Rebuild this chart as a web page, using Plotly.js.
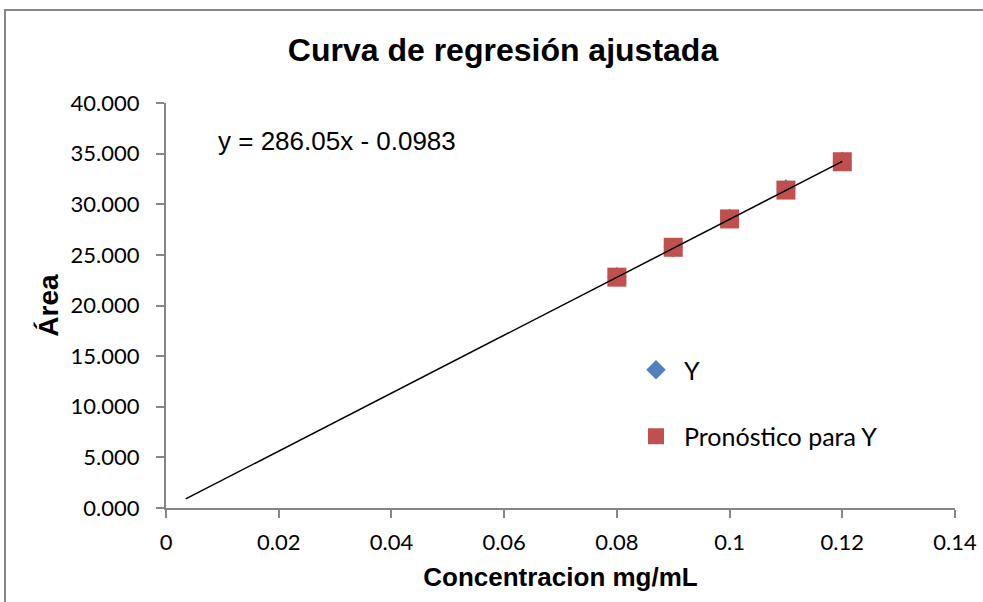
<!DOCTYPE html>
<html>
<head>
<meta charset="utf-8">
<script src="https://cdn.plot.ly/plotly-3.0.1.min.js"></script>
<style>html,body{margin:0;padding:0;background:#fff;}#chart{width:983px;height:602px;}</style>
</head>
<body>
<div id="chart"></div>
<script>
// Data
const concentration = [0.08, 0.09, 0.10, 0.11, 0.12];
const areaY = [22.85, 25.70, 28.60, 31.50, 34.25];          // observed Y (blue diamonds)
const areaForecast = [22.80, 25.75, 28.55, 31.40, 34.20];   // "Pronóstico para Y" (red squares)
const trendX = [0.0035, 0.12];
const trendY = [0.90, 34.23];
const equationText = "y = 286.05x - 0.0983";
const xTickVals = [0, 0.02, 0.04, 0.06, 0.08, 0.1, 0.12, 0.14];
const yTickVals = [0, 5, 10, 15, 20, 25, 30, 35, 40];

const traces = [
  {
    x: concentration, y: areaY, mode: 'markers', type: 'scatter', name: 'Y',
    legendgroup: 'g1',
    marker: {symbol: 'diamond', size: 15, color: '#4F81BD'}
  },
  {
    x: concentration, y: areaForecast, mode: 'markers', type: 'scatter', name: 'Pronóstico para Y',
    legendgroup: 'g2',
    marker: {symbol: 'square', size: 19, color: '#C0504D'}
  },
  {
    x: trendX, y: trendY, mode: 'lines', type: 'scatter',
    line: {color: '#000000', width: 1.5}, showlegend: false, hoverinfo: 'skip'
  }
];

const axisColor = '#868686';
const arial = 'Liberation Sans, Arial, sans-serif';
const calibriLike = 'Lato, Open Sans, sans-serif';
const layout = {
  width: 983, height: 602,
  margin: {l: 166, r: 28, t: 103, b: 94},
  paper_bgcolor: '#ffffff', plot_bgcolor: '#ffffff',
  font: {family: arial, color: '#000000', size: 18},
  title: {
    text: '<b>Curva de regresión ajustada</b>',
    font: {family: arial, size: 32, color: '#000'},
    x: 503 / 983, xanchor: 'center', xref: 'container', y: 1 - 50 / 602, yanchor: 'middle', yref: 'container'
  },
  xaxis: {
    range: [0, 0.14], tickvals: xTickVals, ticktext: xTickVals.map(v => String(v)),
    showgrid: false, zeroline: false, showline: true, linecolor: axisColor, linewidth: 2,
    ticks: 'outside', ticklen: 8, tickwidth: 2, tickcolor: axisColor,
    tickfont: {family: calibriLike, size: 22}, ticklabelstandoff: 6,
    title: {text: '<b>Concentracion mg/mL</b>', font: {family: arial, size: 26}, standoff: 13}
  },
  yaxis: {
    range: [0, 40], tickvals: yTickVals, tickformat: '.3f',
    showgrid: false, zeroline: false, showline: true, linecolor: axisColor, linewidth: 2,
    ticks: 'outside', ticklen: 8, tickwidth: 2, tickcolor: axisColor,
    tickfont: {family: calibriLike, size: 22}, ticklabelstandoff: 12,
    title: {text: '<b>Área</b>', font: {family: arial, size: 28}, standoff: 4}
  },
  legend: {
    x: (628 - 166) / 789, y: (508 - 347) / 405, xanchor: 'left', yanchor: 'top',
    bgcolor: 'rgba(0,0,0,0)', tracegroupgap: 31, traceorder: 'grouped', itemwidth: 46,
    font: {family: calibriLike, size: 25, color: '#000'}
  },
  annotations: [{
    text: equationText, xref: 'paper', yref: 'paper',
    x: (216 - 166) / 789, y: (508 - 141) / 405, xanchor: 'left', yanchor: 'middle',
    showarrow: false, font: {family: arial, size: 26, color: '#000'}
  }],
  shapes: [{
    type: 'rect', xref: 'paper', yref: 'paper',
    x0: (5 - 166) / 789, x1: 1.3, y0: -0.5, y1: (508 - 10) / 405,
    line: {color: '#878787', width: 2}, fillcolor: 'rgba(0,0,0,0)', layer: 'below'
  }]
};

Plotly.newPlot('chart', traces, layout, {displayModeBar: false, staticPlot: true});
</script>
</body>
</html>
